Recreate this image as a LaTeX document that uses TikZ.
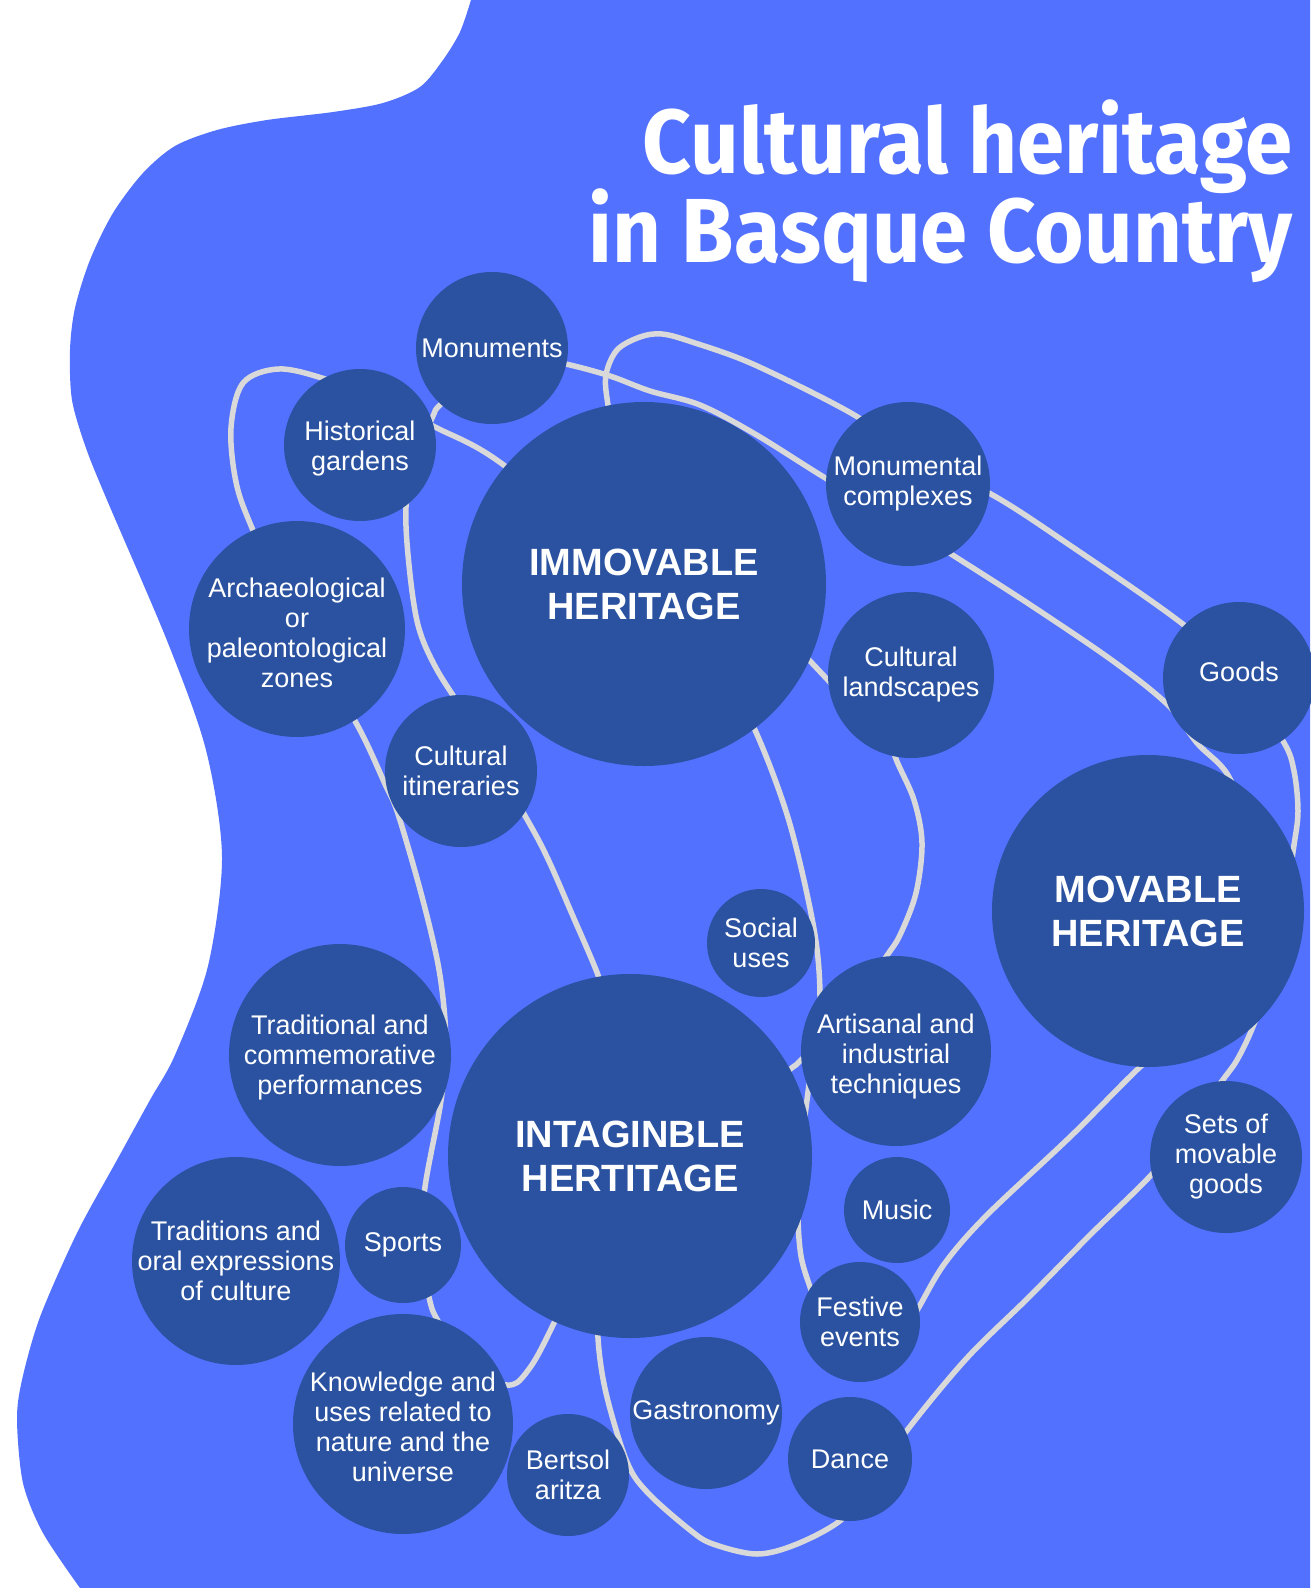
\documentclass[tikz,border=0pt]{standalone}
\usepackage{fontspec}
\usepackage{graphicx}
\setmainfont{Liberation Sans}
\newfontfamily\titlefont{Fira Sans}
\definecolor{blobblue}{HTML}{5271FF}
\definecolor{bubble}{HTML}{2A52A0}
\definecolor{linkgray}{HTML}{D9D9D9}
\pgfdeclarelayer{back}
\pgfdeclarelayer{links}
\pgfsetlayers{back,links,main}
\newcommand\bubfont{\fontsize{27}{30}\selectfont}
\newcommand\heavyfont{\fontsize{38}{44}\selectfont\bfseries}
\newcommand\headfont{\titlefont\bfseries\fontsize{91}{91}\selectfont}
% lower (or raise) a label inside its bubble without moving the bubble
\newcommand\movetext[2]{\raisebox{#1}[\height][\depth]{\begin{tabular}{@{}c@{}}#2\end{tabular}}}
\tikzset{
  bub/.style={circle, fill=bubble, text=white, inner sep=-40pt, align=center, font=\bubfont},
  bigbub/.style={bub, font=\heavyfont},
  link/.style={draw=linkgray, line width=5.5pt, line cap=round, line join=round},
  headline/.style={anchor=base east, inner sep=0pt, text=white},
}
\begin{document}
\begin{tikzpicture}[x=1pt,y=-1pt]
\useasboundingbox (0,0) rectangle (1310,1588);
\begin{pgfonlayer}{back}
  \fill[white] (0,0) rectangle (1310,1588);
  \fill[blobblue] (471,0) -- (1310,0) -- (1310,1588) -- (80,1588)
    -- plot[smooth, tension=0.5] coordinates {(80,1588) (43,1533) (23,1483) (17,1420) (22,1380) (40,1317) (77,1233) (117,1160) (150,1100) (175,1055) (208,966) (222,857) (206,750) (168,643) (107,500) (86,448) (72,400) (70,350) (75,308) (90,260) (113,213) (143,173) (175,146) (217,130) (267,120) (333,112) (383,103) (420,87) (443,60) (460,32) (471,0)}
    -- cycle;
\end{pgfonlayer}

% title
\node[headline] (t1) at (1293,173) {\resizebox{650pt}{\height}{\headfont Cultural heritage}};
\node[headline] (t2) at (1293,262) {\resizebox{704pt}{\height}{\headfont in Basque Country}};

% bubbles
\node[bub, minimum size=152pt] (mon) at (492,348) {Monuments};
\node[bub, minimum size=152pt] (gard) at (360,445) {\movetext{-4pt}{Historical\\gardens}};
\node[bub, minimum size=216pt] (arch) at (297,629) {\movetext{-7pt}{Archaeological\\or\\paleontological\\zones}};
\node[bub, minimum size=152pt] (itin) at (461,771) {Cultural\\itineraries};
\node[bigbub, minimum size=364pt] (imm) at (644,584) {IMMOVABLE\\HERITAGE};
\node[bub, minimum size=164pt] (mcx) at (908,484) {Monumental\\complexes};
\node[bub, minimum size=166pt] (cland) at (911,675) {Cultural\\landscapes};
\node[bub, minimum size=152pt] (goods) at (1239,678) {\raisebox{6pt}[\height][\depth]{Goods}};
\node[bigbub, minimum size=312pt] (mov) at (1148,911) {MOVABLE\\HERITAGE};
\node[bub, minimum size=108pt] (soc) at (761,943) {Social\\uses};
\node[bub, minimum size=190pt] (art) at (896,1051) {\movetext{-6pt}{Artisanal and\\industrial\\techniques}};
\node[bub, minimum size=222pt] (trad) at (340,1055) {\movetext{-3pt}{Traditional and\\commemorative\\performances}};
\node[bigbub, minimum size=364pt] (inta) at (630,1156) {INTAGINBLE\\HERTITAGE};
\node[bub, minimum size=152pt] (sets) at (1226,1157) {Sets of\\movable\\goods};
\node[bub, minimum size=106pt] (music) at (897,1210) {Music};
\node[bub, minimum size=208pt] (oral) at (236,1261) {Traditions and\\oral expressions\\of culture};
\node[bub, minimum size=116pt] (sport) at (403,1245) {Sports};
\node[bub, minimum size=120pt] (fest) at (860,1322) {Festive\\events};
\node[bub, minimum size=220pt] (know) at (403,1424) {\movetext{-6pt}{Knowledge and\\uses related to\\nature and the\\universe}};
\node[bub, minimum size=152pt] (gast) at (706,1413) {Gastronomy};
\node[bub, minimum size=122pt] (bert) at (568,1475) {Bertsol\\aritza};
\node[bub, minimum size=124pt] (dance) at (850,1459) {Dance};

\begin{pgfonlayer}{links}
  % immovable - gardens - left loop - ... - intangible
  \draw[link] plot[smooth, tension=0.55] coordinates {(imm.center) (505,466) (435,427) (380,400) (322,378) (278,369) (243,383) (231,428) (236,482) (252,528) (arch.center) (355,721) (385,784) (398,814) (421,893) (438,964) (445,1020) (445,1063) (440,1107) (425,1187) (421,1245) (429,1297) (438,1321) (470,1370) (507,1385) (526,1373) (553,1325) (inta.center)};
  % monuments - gardens - itineraries - intangible
  \draw[link] plot[smooth, tension=0.55] coordinates {(475,372) (440,405) (433,416) (415,460) (406,507) (409,565) (418,625) (436,668) (470,722) (524,814) (547,857) (572,914) (598,975) (612,1020)};
  % monuments - monumental complexes - goods - movable - festive
  \draw[link] plot[smooth, tension=0.55] coordinates {(mon.center) (566,364) (610,376) (650,391) (700,405) (755,434) (827,479) (890,515) (951,554) (1029,604) (1113,661) (1168,705) (1197,743) (1229,777) (1248,840) (1235,950) (1185,1030) (1140,1067) (1071,1136) (987,1215) (945,1263) (919,1307) (905,1331)};
  % festive - artisanal edge - immovable
  \draw[link] plot[smooth, tension=0.55] coordinates {(822,1320) (810,1287) (801,1256) (798,1215) (800,1160) (807,1100) (815,1040) (820,996) (814,929) (789,821) (755,730) (725,680)};
  % immovable - cultural landscapes
  \draw[link] (780,629) -- (857,711);
  % cultural landscapes - artisanal - intangible
  \draw[link] plot[smooth, tension=0.55] coordinates {(884,722) (896,759) (914,800) (922,843) (916,893) (900,935) (886,957) (850,1010) (801,1060) (793,1067) (770,1085)};
  % big loop
  \draw[link] plot[smooth, tension=0.55] coordinates {(620,470) (608,405) (606,375) (617,350) (640,337) (662,334) (692,342) (755,365) (856,416) (905,455) (989,493) (1071,546) (1184,625) (goods.center) (1283,741) (1294,771) (1298,811) (1294,845) (1285,900) (1265,990) (1252,1029) (1237,1060) (1222,1081) (1190,1125) (1153,1173) (1090,1235) (1029,1297) (966,1359) (905,1433) (870,1485) (841,1520) (797,1544) (757,1554) (713,1544) (690,1530) (648,1493) (627,1462) (606,1393) (598,1338) (600,1290)};
\end{pgfonlayer}
\end{tikzpicture}
\end{document}
